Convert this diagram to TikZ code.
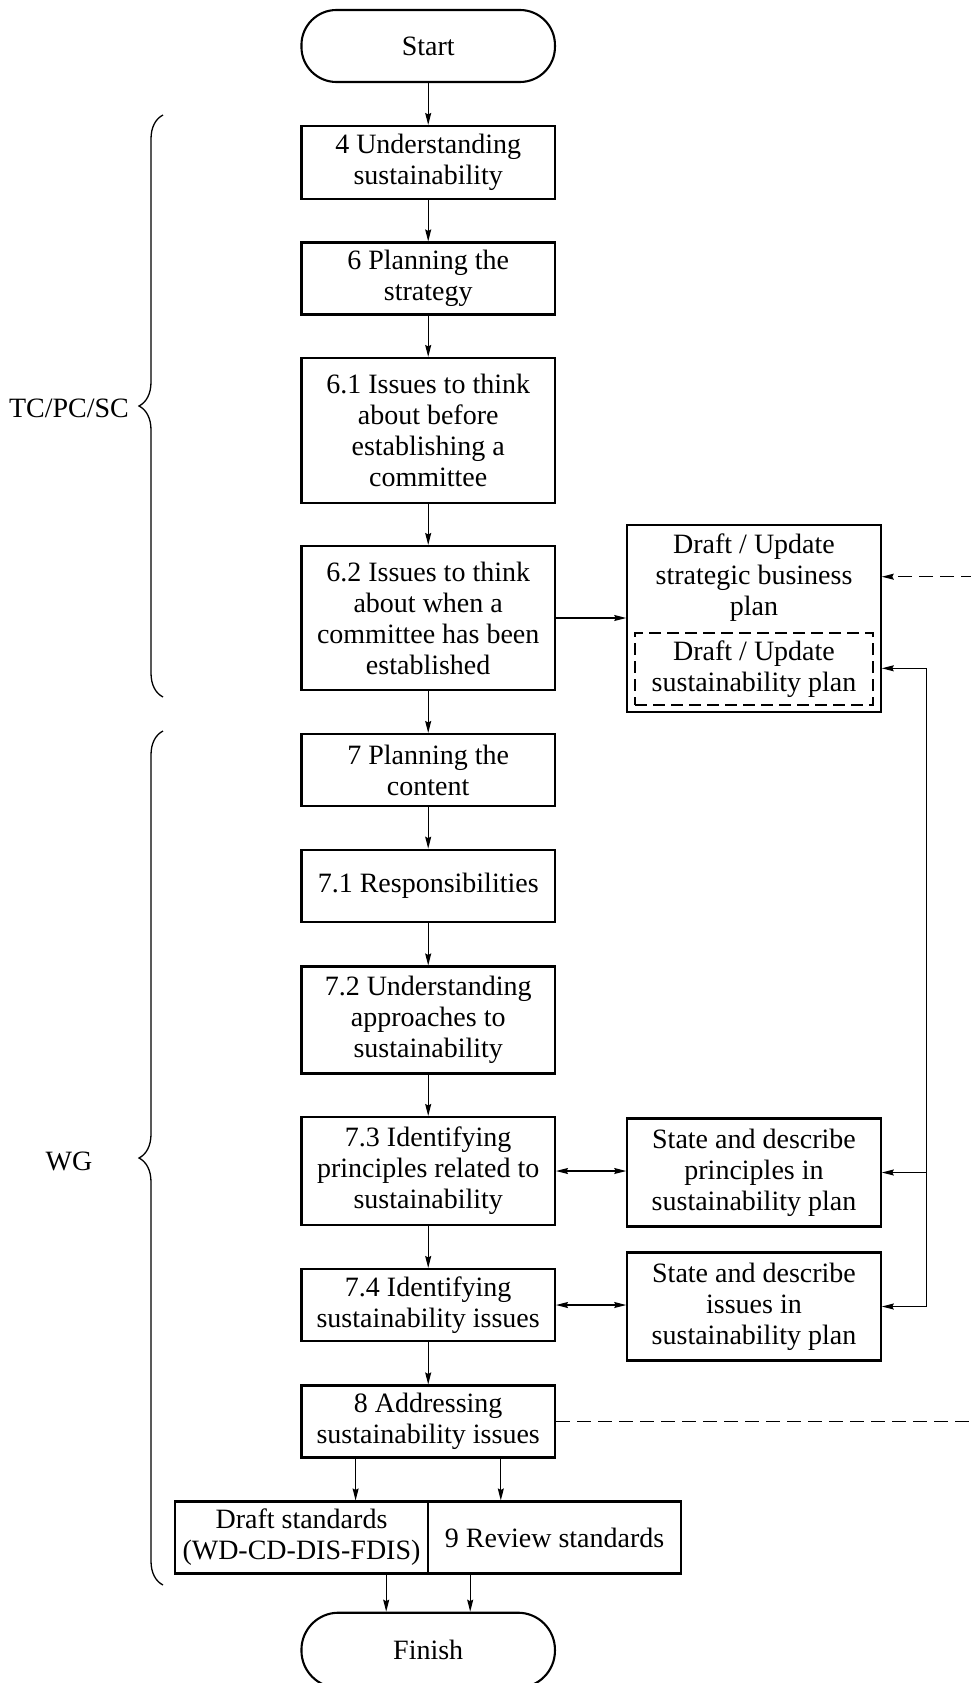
\documentclass[tikz,border=0pt]{standalone}
\usepackage{fontspec}
\setmainfont{Liberation Serif}
\usetikzlibrary{arrows.meta,decorations.pathreplacing}
\begin{document}
\begin{tikzpicture}[x=1pt,y=-1pt,
  txt/.style={font=\fontsize{28}{31}\selectfont,align=center,inner sep=0pt},
  box/.style={txt,draw,line width=2.1pt,minimum width=253.5pt},
  term/.style={box,rounded corners=35pt},
  dbox/.style={txt,draw,line width=1.2pt,dash pattern=on 12pt off 6pt,minimum width=238pt},
  line/.style={line width=1.2pt},
  conn/.style={line,-{Stealth[length=12pt,width=6pt,inset=1.5pt]}},
  dconn/.style={conn,dash pattern=on 14pt off 7pt},
  dline/.style={line,dash pattern=on 14pt off 7pt},
  biconn/.style={line,{Stealth[length=12pt,width=6pt,inset=1.5pt]}-{Stealth[length=12pt,width=6pt,inset=1.5pt]}},
  brc/.style={line width=1.3pt,decorate,decoration={brace,amplitude=24pt}}
]
\useasboundingbox (0,0) rectangle (971,1683);
\clip (0,0) rectangle (971,1683);

% main column
\node[term,minimum height=72pt] (start) at (428.2,46) {Start};
\node[box,minimum height=73pt] (b4) at (428.2,162.5) {4 Understanding\\sustainability};
\node[box,minimum height=72pt] (b6) at (428.2,278.5) {6 Planning the\\strategy};
\node[box,minimum height=145pt] (b61) at (428.2,430.5) {6.1 Issues to think\\about before\\establishing a\\committee};
\node[box,minimum height=144pt] (b62) at (428.2,618) {6.2 Issues to think\\about when a\\committee has been\\established};
\node[box,minimum height=72pt] (b7) at (428.2,770) {7 Planning the\\content};
\node[box,minimum height=72pt] (b71) at (428.2,885.7) {7.1 Responsibilities};
\node[box,minimum height=107pt] (b72) at (428.2,1020) {7.2 Understanding\\approaches to\\sustainability};
\node[box,minimum height=108pt] (b73) at (428.2,1171) {7.3 Identifying\\principles related to\\sustainability};
\node[box,minimum height=72pt] (b74) at (428.2,1305) {7.4 Identifying\\sustainability issues};
\node[box,minimum height=72pt] (b8) at (428.2,1421.5) {8 Addressing\\sustainability issues};
\node[box,minimum width=253pt,minimum height=72pt] (draft) at (301.5,1537.5) {Draft standards\\(WD-CD-DIS-FDIS)};
\node[box,minimum width=253.3pt,minimum height=72pt] (review) at (554.6,1537.5) {9 Review standards};
\node[term,minimum height=75pt,rounded corners=37pt] (finish) at (428.2,1650.2) {Finish};

% right column
\node[box,minimum height=187.3pt] (plan) at (754,618.7) {};
\node[txt] (plantxt) at (754,578) {Draft / Update\\strategic business\\plan};
\node[dbox,minimum height=72pt] (plani) at (754,669) {Draft / Update\\sustainability plan};
\node[box,minimum height=108pt] (princ) at (754,1172.5) {State and describe\\principles in\\sustainability plan};
\node[box,minimum height=108pt] (issues) at (754,1306.5) {State and describe\\issues in\\sustainability plan};

% labels
\node[txt] (tc) at (69,408) {TC/PC/SC};
\node[txt] (wg) at (69,1161) {WG};
\draw[brc] (163,697) -- (163,115);
\draw[brc] (163,1585) -- (163,731);

% main flow
\draw[conn] (start) -- (b4);
\draw[conn] (b4) -- (b6);
\draw[conn] (b6) -- (b61);
\draw[conn] (b61) -- (b62);
\draw[conn] (b62) -- (b7);
\draw[conn] (b7) -- (b71);
\draw[conn] (b71) -- (b72);
\draw[conn] (b72) -- (b73);
\draw[conn] (b73) -- (b74);
\draw[conn] (b74) -- (b8);
\draw[conn] ([xshift=-72.6pt]b8.south) -- ([xshift=-72.6pt]b8.south |- draft.north);
\draw[conn] ([xshift=72.6pt]b8.south) -- ([xshift=72.6pt]b8.south |- review.north);
\draw[conn] ([xshift=-42pt]finish.north |- draft.south) -- ([xshift=-42pt]finish.north);
\draw[conn] ([xshift=42pt]finish.north |- review.south) -- ([xshift=42pt]finish.north);

% side links
\draw[conn] (b62.east) -- (b62.east -| plan.west);
\draw[biconn] (b73.east) -- (b73.east -| princ.west);
\draw[biconn] (b74.east) -- (b74.east -| issues.west);

\coordinate (vtop) at (926.7,668.3);
\coordinate (vbot) at (926.7,1306.5);
\draw[line] (vtop) -- (vbot);
\draw[conn] (vtop) -- (vtop -| plan.east);
\draw[conn] (princ.east -| vtop) -- (princ.east);
\draw[conn] (vbot) -- (issues.east);

\coordinate (rt) at (975,576.7);
\coordinate (rb) at (975,1421.5);
\draw[dconn] (rt) -- (rt -| plan.east);
\draw[dline] (b8.east) -- (rb);
\end{tikzpicture}
\end{document}
